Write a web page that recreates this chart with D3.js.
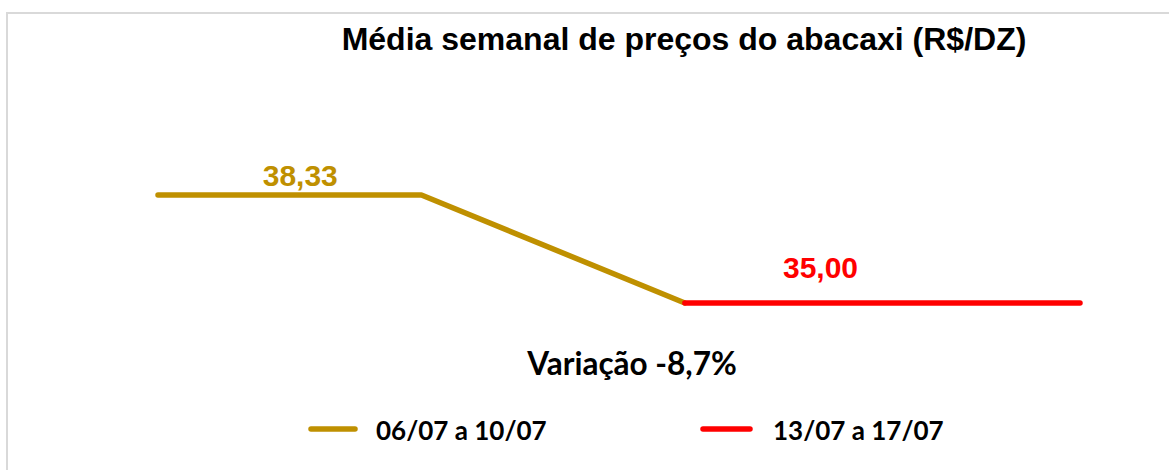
<!DOCTYPE html>
<html><head><meta charset="utf-8">
<script src="https://cdn.jsdelivr.net/npm/d3@7"></script>
<style>html,body{margin:0;padding:0;background:#fff;overflow:hidden}</style>
</head><body>
<svg id="c" width="1169" height="470"></svg>
<script>
// Data
const seriesNames = ["06/07 a 10/07", "13/07 a 17/07"];
const seriesColors = ["#BF9000", "#FF0000"];
const goldX = [0, 1, 2, 4];
const goldY = [38.33, 38.33, 38.33, 35.00];
const redX = [4, 5, 6, 7];
const redY = [35.00, 35.00, 35.00, 35.00];
const labelX = [1.08, 5.03];
const labelVal = [38.33, 35.00];
const labelText = ["38,33", "35,00"];
const title = "Média semanal de preços do abacaxi (R$/DZ)";
const variation = "Variação -8,7%";

const svg = d3.select("#c");
svg.append("rect").attr("x",7).attr("y",13).attr("width",1200).attr("height",500)
  .attr("fill","none").attr("stroke","#D9D9D9").attr("stroke-width",2);

const x = d3.scaleLinear().domain([0,7]).range([158,1080]);
const y = d3.scaleLinear().domain([32,40]).range([400.3,140.8]);

svg.append("text").attr("x",684).attr("y",50).attr("text-anchor","middle")
  .attr("font-family","'Liberation Sans', Arial, sans-serif").attr("font-weight","bold")
  .attr("font-size",32).attr("fill","#000").text(title);

const line = d3.line().x(d=>x(d[0])).y(d=>y(d[1]));
const series = [d3.zip(goldX, goldY), d3.zip(redX, redY)];
svg.selectAll("path.s").data(series).join("path").attr("class","s")
  .attr("d", line).attr("fill","none")
  .attr("stroke",(d,i)=>seriesColors[i]).attr("stroke-width",5.5)
  .attr("stroke-linecap","round").attr("stroke-linejoin","round");

const labelDy = [-9, -25];
svg.selectAll("text.lab").data(labelVal).join("text").attr("class","lab")
  .attr("x",(d,i)=>x(labelX[i])).attr("y",(d,i)=>y(d)+labelDy[i]).attr("text-anchor","middle")
  .attr("font-family","'Liberation Sans', Arial, sans-serif").attr("font-weight","bold")
  .attr("font-size",30).attr("fill",(d,i)=>seriesColors[i]).text((d,i)=>labelText[i]);

svg.append("text").attr("x",632).attr("y",375).attr("text-anchor","middle")
  .attr("font-family","Lato, sans-serif").attr("font-weight","bold")
  .attr("font-size",31.5).attr("fill","#000").text(variation);

const legX = [311, 703];
const legTx = [65, 70];
const lg = svg.selectAll("g.leg").data(seriesNames).join("g").attr("class","leg")
  .attr("transform",(d,i)=>`translate(${legX[i]},429)`);
lg.append("line").attr("x1",0).attr("x2",(d,i)=>i?47:44).attr("y1",0).attr("y2",0)
  .attr("stroke",(d,i)=>seriesColors[i]).attr("stroke-width",5.5).attr("stroke-linecap","round");
lg.append("text").attr("x",(d,i)=>legTx[i]).attr("y",11)
  .attr("font-family","Lato, sans-serif").attr("font-weight","bold")
  .attr("font-size",26).attr("fill","#000").text(d=>d);
</script>
</body></html>
